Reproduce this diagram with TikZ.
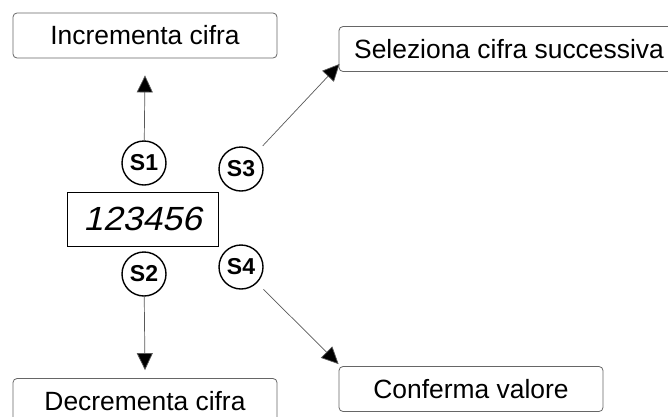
\documentclass[tikz,border=0pt]{standalone}
\usepackage{fontspec}
\setmainfont{Liberation Sans}
\newfontfamily\segfont{Liberation Sans}[FakeSlant=0.22,FakeStretch=1.06]
\usetikzlibrary{arrows.meta}
\begin{document}
\begin{tikzpicture}[x=1pt,y=-1pt,
  actbox/.style={draw=black!60,line width=0.8pt,rounded corners=4pt,minimum width=264pt,minimum height=45pt,inner sep=0pt,font=\fontsize{26.4}{30}\selectfont},
  keyc/.style={circle,draw=black,line width=1.4pt,minimum size=44pt,inner sep=0pt,font=\fontsize{23}{25}\selectfont\bfseries},
  arr/.style={draw=black!65,line width=0.7pt,-{Triangle[length=17pt,width=16pt,fill=black]}}]
\useasboundingbox (0,0) rectangle (668,416);
% action boxes
\node[actbox] (inc) at (145,35.5) {Incrementa cifra};
\node[actbox,minimum width=340pt] (sel) at (509,49) {Seleziona cifra successiva};
\node[actbox] (conf) at (471,389) {Conferma valore};
\node[actbox] (dec) at (145,401) {Decrementa cifra};
% display
\node[draw=black,line width=1pt,minimum width=151pt,minimum height=54pt,inner sep=0pt,font=\segfont\fontsize{33.5}{36}\selectfont] (disp) at (142.5,219) {123456};
% keys
\node[keyc] (s1) at (144,163) {S1};
\node[keyc] (s2) at (144,274) {S2};
\node[keyc] (s3) at (241,169) {S3};
\node[keyc] (s4) at (241,267) {S4};
% tip coordinates
\coordinate (tinc) at ([yshift=-17pt]inc.south);
\coordinate (tdec) at ([yshift=8pt]dec.north);
\coordinate (tsel) at ([xshift=1pt,yshift=8pt]sel.south west);
\coordinate (tconf) at ([yshift=2pt]conf.north west);
% arrows
\draw[arr] (s1) -- (tinc);
\draw[arr] (s2) -- (tdec);
\draw[arr,shorten <=9pt] (s3) -- (tsel);
\draw[arr,shorten <=9pt] (s4) -- (tconf);
\end{tikzpicture}
\end{document}
